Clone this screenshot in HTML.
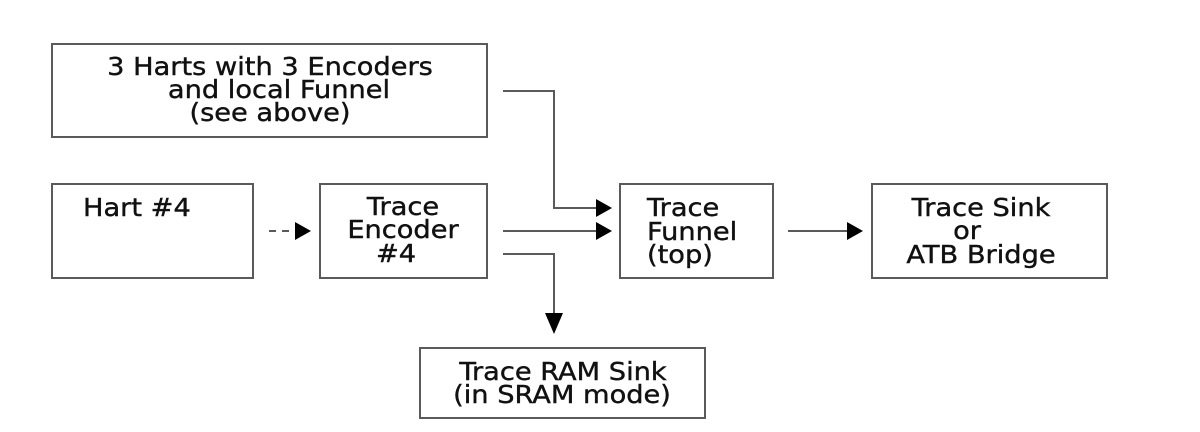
<!DOCTYPE html>
<html><head><style>
body{margin:0;background:#fff}
svg{display:block}
text{font-family:"DejaVu Sans","Liberation Sans",sans-serif;font-size:25px;fill:#111;stroke:#111;stroke-width:0.4}
</style></head><body>
<svg width="1200" height="432" viewBox="0 0 1200 432">
<g fill="none" stroke="#5a5a5a" stroke-width="2">
<rect x="52" y="44" width="435" height="93"/>
<rect x="52" y="184" width="201" height="94"/>
<rect x="320" y="184" width="167" height="94"/>
<rect x="620" y="184" width="153" height="94"/>
<rect x="872" y="184" width="235" height="94"/>
<rect x="420" y="348" width="285" height="70"/>
<polyline points="503,91 554,91 554,208 600,208"/>
<line x1="503" y1="231" x2="600" y2="231"/>
<polyline points="503,254 554,254 554,318"/>
<line x1="788" y1="231" x2="850" y2="231"/>
<line x1="269" y1="231" x2="298" y2="231" stroke-dasharray="7,6"/>
</g>
<g fill="#000">
<polygon points="596,199 612,208 596,217"/>
<polygon points="596,222 612,231 596,240"/>
<polygon points="545,313 563,313 554,334"/>
<polygon points="847,222 863,231 847,240"/>
<polygon points="295,222 311,231 295,240"/>
</g>
<g text-anchor="middle">
<text transform="translate(270,75) scale(1.09,1)">3 Harts with 3 Encoders</text>
<text transform="translate(279,98) scale(1.09,1)">and local Funnel</text>
<text transform="translate(270,121) scale(1.09,1)">(see above)</text>
<text transform="translate(403,215) scale(1.09,1)">Trace</text>
<text transform="translate(403,238) scale(1.09,1)">Encoder</text>
<text transform="translate(396,262) scale(1.09,1)">#4</text>
<text transform="translate(981,216) scale(1.09,1)">Trace Sink</text>
<text transform="translate(967,239) scale(1.09,1)">or</text>
<text transform="translate(981,263) scale(1.09,1)">ATB Bridge</text>
<text transform="translate(563,380) scale(1.09,1)">Trace RAM Sink</text>
<text transform="translate(562,403) scale(1.09,1)">(in SRAM mode)</text>
</g>
<text transform="translate(83,216) scale(1.09,1)">Hart #4</text>
<text transform="translate(647,216) scale(1.09,1)">Trace</text>
<text transform="translate(647,240) scale(1.09,1)">Funnel</text>
<text transform="translate(647,263) scale(1.09,1)">(top)</text>
</svg>
</body></html>
